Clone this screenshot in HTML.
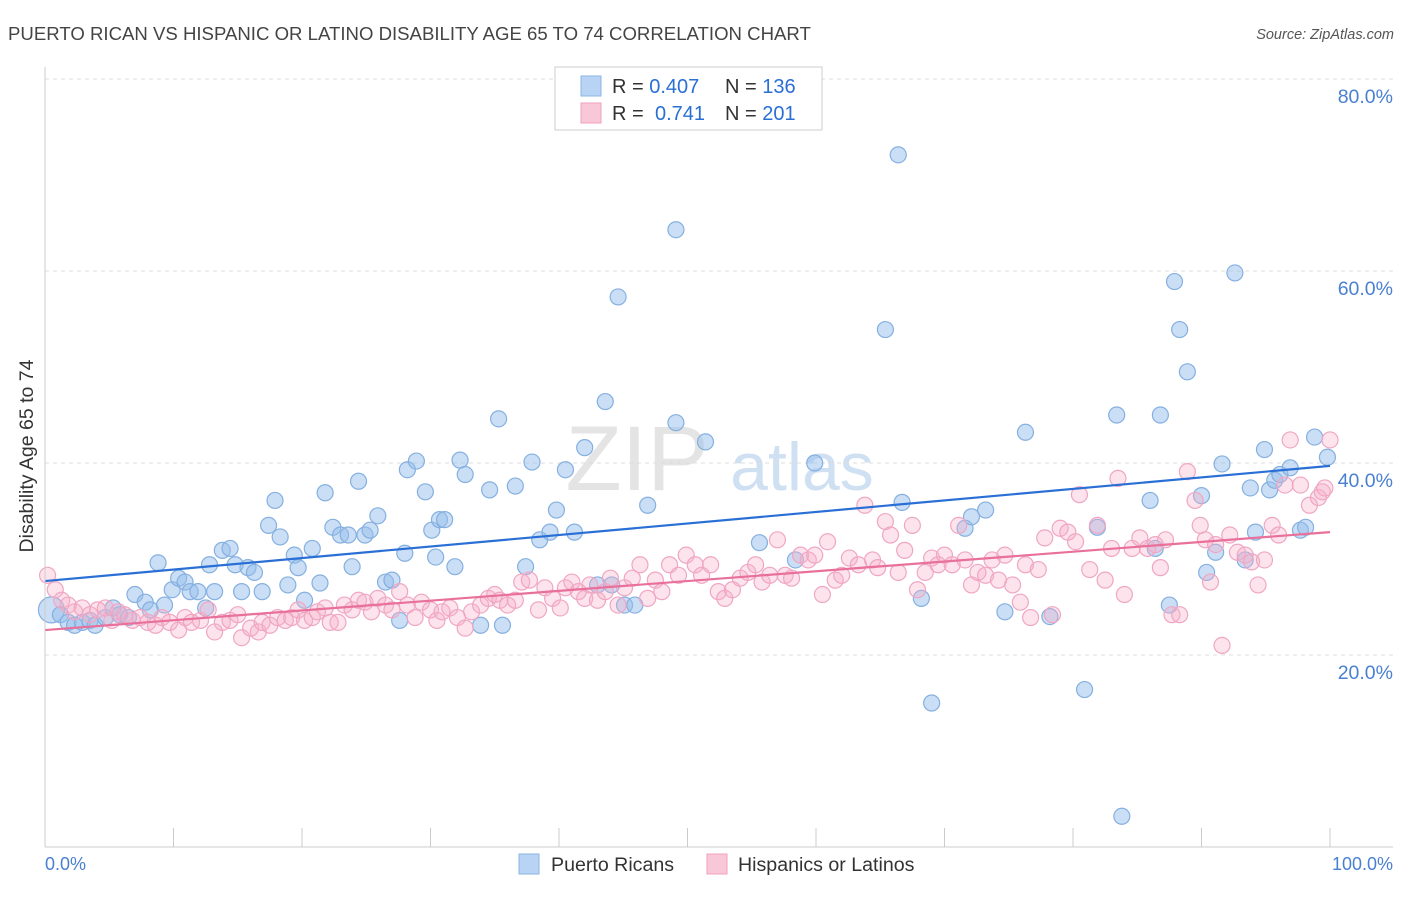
<!DOCTYPE html>
<html><head><meta charset="utf-8"><style>
body{margin:0;background:#fff;font-family:"Liberation Sans",sans-serif;}
svg text{font-family:"Liberation Sans",sans-serif;}
</style></head><body>
<svg id="chart" width="1406" height="892" xmlns="http://www.w3.org/2000/svg">
<text x="8" y="40" font-size="18.6" fill="#444">PUERTO RICAN VS HISPANIC OR LATINO DISABILITY AGE 65 TO 74 CORRELATION CHART</text>
<text x="1394" y="39" font-size="14.5" fill="#555" font-style="italic" text-anchor="end">Source: ZipAtlas.com</text>
<text x="637" y="490" font-size="92" fill="#e4e4e4" font-family="Liberation Serif" text-anchor="middle">ZIP</text>
<text x="802" y="490" font-size="68" fill="#cfe0f3" text-anchor="middle">atlas</text>
<g id="grid"></g>
<g id="pts"></g>
<g id="trends"></g>
<line x1="45" y1="67" x2="45" y2="847" stroke="#ccc"/>
<line x1="45" y1="847" x2="1393" y2="847" stroke="#ccc"/>
<text x="33" y="456" font-size="19.5" fill="#333" text-anchor="middle" transform="rotate(-90 33 456)">Disability Age 65 to 74</text>
<text x="45" y="870" font-size="18" fill="#4a80d0">0.0%</text>
<text x="1393" y="870" font-size="18" fill="#4a80d0" text-anchor="end">100.0%</text>
<g>
<rect x="555" y="67" width="267" height="63" fill="#fff" stroke="#ccc"/>
<rect x="581" y="76" width="20" height="20" fill="#b8d3f3" stroke="#8ab4e0"/>
<rect x="581" y="103" width="20" height="20" fill="#f8c8d8" stroke="#f0a0bf"/>
<text x="612" y="93" font-size="20" fill="#333">R = <tspan fill="#2a6fd6">0.407</tspan><tspan x="725">N = </tspan><tspan fill="#2a6fd6">136</tspan></text>
<text x="612" y="120" font-size="20" fill="#333">R = <tspan fill="#2a6fd6" x="655">0.741</tspan><tspan x="725">N = </tspan><tspan fill="#2a6fd6">201</tspan></text>
</g>
<g>
<rect x="519" y="854" width="20" height="20" fill="#b8d3f3" stroke="#8ab4e0"/>
<text x="551" y="871" font-size="19.6" fill="#333">Puerto Ricans</text>
<rect x="707" y="854" width="20" height="20" fill="#f8c8d8" stroke="#f0a0bf"/>
<text x="738" y="871" font-size="19.6" fill="#333">Hispanics or Latinos</text>
</g>
</svg>
<script>
const yTicks=[20,40,60,80];
const yTickLabels=["20.0%","40.0%","60.0%","80.0%"];
const xTicks=[0,10,20,30,40,50,60,70,80,90,100];
const blueX=[0.5,1.2,1.8,2.3,2.9,3.5,3.9,4.7,5.3,5.8,6.5,7.0,7.8,8.2,8.8,9.3,9.9,10.4,10.9,11.3,11.9,12.5,12.8,13.2,13.8,14.4,14.8,15.3,15.8,16.3,16.9,17.4,17.9,18.3,18.9,19.4,19.7,20.2,20.8,21.4,21.8,22.4,23.0,23.6,23.9,24.4,24.9,25.3,25.9,26.5,27.0,27.6,28.0,28.2,28.9,29.6,30.1,30.4,30.7,31.1,31.9,32.3,32.7,33.9,34.6,35.3,35.6,36.6,37.4,37.9,38.5,39.3,39.8,40.5,41.2,42.0,43.0,43.6,44.1,44.6,45.1,45.9,46.9,49.1,49.1,51.4,55.6,58.4,59.9,65.4,66.4,66.7,68.2,69.0,71.6,72.1,73.2,74.7,76.3,78.2,80.9,81.9,83.4,83.8,86.0,86.4,86.8,87.5,87.9,88.3,88.9,90.0,90.4,91.1,91.6,92.6,93.4,93.8,94.2,94.9,95.3,95.7,96.1,96.9,97.7,98.1,98.8,99.8];
const blueY=[24.7,24.2,23.4,23.1,23.4,23.6,23.1,23.9,24.9,24.2,23.9,26.3,25.5,24.7,29.6,25.2,26.8,28.0,27.6,26.6,26.6,24.9,29.4,26.6,30.9,31.1,29.4,26.6,29.1,28.6,26.6,33.5,36.1,32.3,27.3,30.4,29.1,25.7,31.1,27.5,36.9,33.3,32.5,32.5,29.2,38.1,32.5,33.0,34.5,27.6,27.8,23.6,30.6,39.3,40.2,37.0,33.0,30.2,34.1,34.1,29.2,40.3,38.8,23.1,37.2,44.6,23.1,37.6,29.2,40.1,32.0,32.8,35.1,39.3,32.8,41.6,27.3,46.4,27.3,57.3,25.2,25.2,35.6,64.3,44.2,42.2,31.7,29.9,40.0,53.9,72.1,35.9,25.9,15.0,33.2,34.4,35.1,24.5,43.2,24.0,16.4,33.3,45.0,3.2,36.1,31.1,45.0,25.2,58.9,53.9,49.5,36.6,28.6,30.7,39.9,59.8,29.9,37.4,32.8,41.4,37.2,38.2,38.8,39.5,33.0,33.3,42.7,40.6];
const pinkX=[0.2,0.8,1.3,1.8,2.3,2.9,3.5,4.1,4.7,5.2,5.7,6.2,6.8,7.4,8.0,8.6,9.1,9.7,10.4,10.9,11.4,12.1,12.7,13.2,13.8,14.4,15.0,15.3,16.0,16.6,16.9,17.5,18.1,18.7,19.2,19.7,20.2,20.8,21.2,21.8,22.2,22.8,23.3,23.9,24.4,24.9,25.4,25.9,26.5,27.0,27.6,28.2,28.8,29.3,30.0,30.5,30.9,31.5,32.1,32.7,33.2,33.9,34.5,35.0,35.4,36.0,36.6,37.1,37.7,38.4,38.9,39.5,40.1,40.5,41.0,41.5,42.0,42.4,43.0,43.6,44.0,44.6,45.1,45.7,46.3,46.9,47.5,48.0,48.6,49.3,49.9,50.6,51.1,51.8,52.4,52.9,53.5,54.1,54.7,55.3,55.8,56.4,57.0,57.6,58.1,58.8,59.4,59.9,60.5,60.9,61.5,62.0,62.6,63.3,63.8,64.4,64.8,65.4,65.8,66.4,66.9,67.5,67.9,68.5,69.0,69.5,70.0,70.6,71.1,71.6,72.1,72.6,73.2,73.7,74.2,74.7,75.3,75.9,76.3,76.7,77.3,77.8,78.4,79.0,79.6,80.2,80.5,81.3,81.9,82.5,83.0,83.5,84.0,84.6,85.2,85.8,86.4,86.8,87.2,87.7,88.3,88.9,89.5,89.9,90.3,90.7,91.1,91.6,92.2,92.8,93.4,93.9,94.4,94.9,95.5,96.0,96.5,96.9,97.7,98.4,99.1,99.4,100,99.6];
const pinkY=[28.3,26.8,25.7,25.2,24.5,24.9,24.2,24.7,24.9,23.6,24.5,24.2,23.6,23.9,23.4,23.1,23.9,23.4,22.6,23.9,23.4,23.6,24.7,22.4,23.4,23.6,24.2,21.8,22.8,22.4,23.4,23.1,23.9,23.6,23.9,24.7,23.6,23.9,24.5,24.9,23.4,23.4,25.2,24.7,25.7,25.5,24.5,25.9,25.2,24.7,26.6,25.2,23.9,25.5,24.7,23.6,24.5,24.9,23.9,22.8,24.5,25.2,25.9,26.3,25.7,25.2,25.7,27.6,27.8,24.7,27.0,25.9,24.9,27.0,27.6,26.6,25.9,27.3,25.7,26.6,28.0,25.2,27.0,28.0,29.4,25.9,27.8,26.6,29.4,28.3,30.4,29.4,28.3,29.4,26.6,25.9,26.8,28.0,28.6,29.4,27.6,28.3,32.0,28.3,28.0,30.4,29.9,30.4,26.3,31.8,27.8,28.3,30.1,29.4,35.6,29.9,29.1,33.9,32.5,28.6,30.9,33.5,26.8,28.6,30.1,29.4,30.4,29.4,33.5,29.9,27.3,28.6,28.3,29.9,27.8,30.4,27.3,25.5,29.4,23.9,28.9,32.2,24.2,33.2,32.8,31.8,36.7,28.9,33.5,27.8,31.1,38.4,26.3,31.1,32.2,31.1,31.5,29.1,32.0,24.2,24.2,39.1,36.1,33.5,32.0,27.6,31.5,21.0,32.5,30.7,30.4,29.7,27.3,29.9,33.5,32.5,37.7,42.4,37.7,35.6,36.4,37.0,42.4,37.4];
const blueTrend=[27.7,39.7];
const pinkTrend=[22.6,32.8];
const NS="http://www.w3.org/2000/svg";
const X=v=>45+v*12.85;
const Y=v=>847-v*9.6;
function mk(t,a){const e=document.createElementNS(NS,t);for(const k in a)e.setAttribute(k,a[k]);return e;}
const grid=document.getElementById('grid');
yTicks.forEach((t,i)=>{
 const l=mk('line',{x1:45,x2:1393,y1:Y(t),y2:Y(t),stroke:'#ddd','stroke-dasharray':'4,4'});
 
 
 grid.appendChild(l);
 const tx=mk('text',{x:1393,y:Y(t)+24,'font-size':19.5,fill:'#4a80d0','text-anchor':'end'});
 tx.textContent=yTickLabels[i];
 
 
 grid.appendChild(tx);
});
const tl=mk('line',{x1:45,x2:1393,y1:79,y2:79,stroke:'#ddd','stroke-dasharray':'4,4'});


grid.appendChild(tl);
xTicks.forEach(t=>{
 const l=mk('line',{x1:X(t),x2:X(t),y1:828,y2:847,stroke:'#ccc'});
 
 
 grid.appendChild(l);
});
const pts=document.getElementById('pts');
blueX.forEach((x,i)=>{
 const c=mk('circle',{cx:X(x),cy:Y(blueY[i]),r:i===0?13:8,fill:'rgba(150,190,235,0.5)',stroke:'#85b0e0','stroke-width':1.2});
 
 
 pts.appendChild(c);
});
pinkX.forEach((x,i)=>{
 const c=mk('circle',{cx:X(x),cy:Y(pinkY[i]),r:8,fill:'rgba(245,175,200,0.35)',stroke:'#f0a6c3','stroke-width':1.2});
 
 
 pts.appendChild(c);
});
const tr=document.getElementById('trends');
const bl=mk('line',{x1:X(0),x2:X(100),y1:Y(blueTrend[0]),y2:Y(blueTrend[1]),stroke:'#2a6fd6','stroke-width':2.2});


tr.appendChild(bl);
const pl=mk('line',{x1:X(0),x2:X(100),y1:Y(pinkTrend[0]),y2:Y(pinkTrend[1]),stroke:'#e8709a','stroke-width':2.2});


tr.appendChild(pl);
</script>
</body></html>
